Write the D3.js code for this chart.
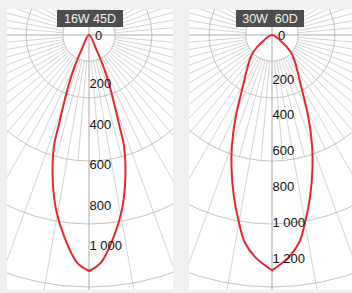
<!DOCTYPE html>
<html>
<head>
<meta charset="utf-8">
<script src="https://cdn.jsdelivr.net/npm/d3@7"></script>
<style>
  body { margin: 0; background: #eff1f1; }
  svg { display: block; }
</style>
</head>
<body>
<div id="app"></div>
<script>
// angles from nadir (degrees) and intensities (cd), one half, mirrored for the other side
const angles16 = [0, 3, 7, 10.5, 14, 17.5, 18.5, 20, 22, 24.5, 27, 31];
const cd16 = [1165, 1125, 1003, 884, 740, 575, 475, 370, 272, 168, 78, 0];

const angles30 = [0, 4.25, 7.5, 10, 13.4, 17, 20, 24, 30, 40, 47.5, 56, 63];
const cd30 = [1315, 1246, 1168, 1064, 922, 774, 654, 497, 321, 201, 145, 59, 0];

const ticks16 = [0, 200, 400, 600, 800, 1000];
const ticks30 = [0, 200, 400, 600, 800, 1000, 1200];

const titles = ['16W 45D', '30W  60D'];

const W = 352, H = 293;
const fmt = v => v >= 1000 ? d3.format(',')(v).replace(',', ' ') : String(v);

const svg = d3.select('#app').append('svg')
  .attr('width', W)
  .attr('height', H);

const panels = [
  { x0: 7, x1: 173, cx: 89, angles: angles16, cd: cd16, ticks: ticks16, max: 1244, title: titles[0] },
  { x0: 189, x1: 352, cx: 272, angles: angles30, cd: cd30, ticks: ticks30, max: 1408, title: titles[1] }
];
const cy = 35, panelTop = 9, panelBottom = 290;

panels.forEach((p, i) => {
  const r = d3.scaleLinear().domain([0, p.max]).range([0, 252]);
  const R = r.range()[1];

  svg.append('clipPath').attr('id', 'clip' + i)
    .append('rect')
    .attr('x', p.x0).attr('y', panelTop)
    .attr('width', p.x1 - p.x0).attr('height', panelBottom - panelTop);

  svg.append('rect')
    .attr('x', p.x0).attr('y', panelTop)
    .attr('width', p.x1 - p.x0).attr('height', panelBottom - panelTop)
    .attr('fill', '#fff');

  const g = svg.append('g').attr('clip-path', `url(#clip${i})`);
  const c = g.append('g').attr('transform', `translate(${p.cx},${cy})`);

  // radial lines
  const rIn = R * 0.104;
  d3.range(0, 360, 5).filter(d => d % 90 !== 0).forEach(deg => {
    const a = deg * Math.PI / 180;
    const rOut = deg % 10 === 0 ? 500 : R * 0.5;
    c.append('line')
      .attr('x1', rIn * Math.cos(a)).attr('y1', rIn * Math.sin(a))
      .attr('x2', rOut * Math.cos(a)).attr('y2', rOut * Math.sin(a))
      .attr('stroke', '#d4d4d4').attr('stroke-width', 1);
  });

  // rings
  [0.104, 0.25, 0.5, 0.75, 1].forEach(f => {
    c.append('circle').attr('r', R * f)
      .attr('fill', 'none').attr('stroke', '#c2c2c2').attr('stroke-width', 1);
  });

  // main axes
  c.append('line').attr('x1', -400).attr('x2', 400).attr('y1', 0).attr('y2', 0)
    .attr('stroke', '#a9a9a9');
  c.append('line').attr('y1', -100).attr('y2', 400).attr('x1', 0).attr('x2', 0)
    .attr('stroke', '#a9a9a9');

  // curve
  const right = p.angles.map((a, j) => ({ a: Math.PI - a * Math.PI / 180, v: p.cd[j] }));
  const left = p.angles.slice(0, -1).reverse().map(a => ({ a: Math.PI + a * Math.PI / 180, v: p.cd[p.angles.indexOf(a)] }));
  const pts = right.concat(left);

  const line = d3.lineRadial()
    .angle(d => d.a)
    .radius(d => r(d.v))
    .curve(d3.curveCatmullRomClosed.alpha(0.5));

  c.append('path')
    .attr('d', line(pts))
    .attr('fill', 'none')
    .attr('stroke', '#e8262d')
    .attr('stroke-width', 2);

  // labels
  c.selectAll('text.lab')
    .data(p.ticks)
    .join('text')
    .attr('class', 'lab')
    .attr('x', d => d === 0 ? 6 : 0.5)
    .attr('y', d => d === 0 ? 4.5 : r(d) + 12.8)
    .attr('font-family', 'Liberation Sans, Arial, sans-serif')
    .attr('font-size', 13)
    .attr('fill', '#111')
    .text(fmt);

  // title box
  const tx = (i === 0 ? 90 : 270);
  svg.append('rect')
    .attr('x', tx - (i === 0 ? 33 : 34)).attr('y', 10)
    .attr('width', i === 0 ? 66 : 68).attr('height', 17)
    .attr('fill', '#444')
    .attr('fill-opacity', 0.95);
  svg.append('text')
    .attr('x', tx).attr('y', 23)
    .attr('text-anchor', 'middle')
    .attr('font-family', 'Liberation Sans, Arial, sans-serif')
    .attr('font-size', 12.5)
    .attr('fill', '#f2f2f2')
    .style('white-space', 'pre')
    .text(p.title);
});
</script>
</body>
</html>
